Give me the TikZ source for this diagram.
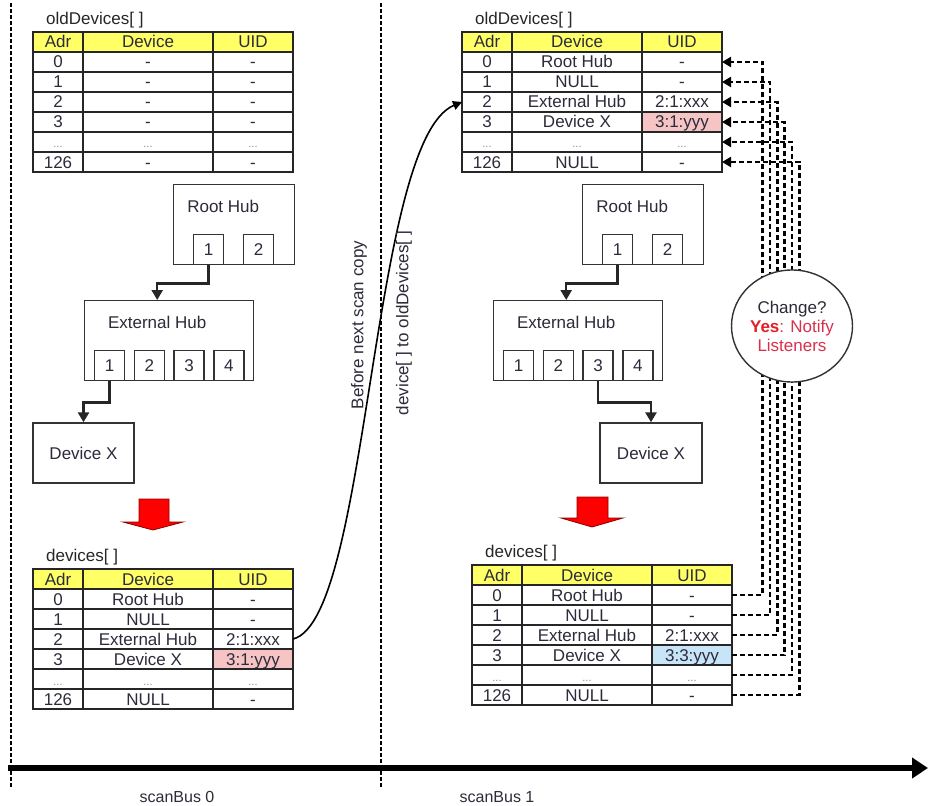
\documentclass[tikz,border=0pt]{standalone}
\usepackage{fontspec}
\setmainfont{Liberation Sans}
\usepackage{tikz}
\usetikzlibrary{arrows.meta,calc,positioning,shapes.geometric}
\definecolor{amarelo}{HTML}{FFFF66}
\definecolor{rosa}{HTML}{F6C4C4}
\definecolor{celeste}{HTML}{C8E4F8}
\definecolor{rubro}{HTML}{E41E26}
\definecolor{carmim}{HTML}{D8304E}
\definecolor{tinta}{HTML}{2B2B3A}
\newcommand{\gdots}{\textcolor{black!45}{\fontsize{11}{11}\selectfont...}}

\begin{document}
\begin{tikzpicture}[x=1pt, y=-1pt, font=\fontsize{17}{19}\selectfont,
  cell/.style={draw=black!85, line width=1.5pt, anchor=north west, minimum height=20,
    inner sep=0pt, outer sep=0pt, text height=12pt, text depth=0pt, text=tinta},
  head/.style={cell, fill=amarelo},
  title/.style={inner sep=0pt, text=black!85},
  hub/.style={draw=black!80, line width=1.4pt, fill=white, anchor=north west, text=tinta},
  port/.style={draw=black!80, line width=1.4pt, minimum size=30, inner sep=0pt, anchor=south west, text=tinta},
  hubtxt/.style={inner sep=0pt, text=tinta},
  link/.style={line width=2.5pt, black!85, -{Triangle[length=10pt,width=11pt]}},
  sync/.style={line width=2.6pt, dash pattern=on 5pt off 3pt, -{Triangle[length=9pt,width=10pt]}},
  copyline/.style={line width=1.6pt, -{Triangle[length=9pt,width=9pt]}},
  divisa/.style={line width=2pt, dash pattern=on 4pt off 2pt},
  decide/.style={ellipse, draw=black!80, line width=1.4pt, fill=white, minimum width=121,
    minimum height=112, align=center, inner sep=0pt},
  blockarrow/.style={fill=red, draw=red!55!black, line width=0.8pt}]
  \useasboundingbox (0,0) rectangle (928,805);

  % time line
  \draw[divisa] (11,3) -- (11,788);
  \draw[divisa] (381,3) -- (381,788);
  \coordinate (t0) at (8,768);
  \coordinate (t1) at (928,768);
  \draw[line width=6.5pt, -{Triangle[length=16pt,width=20pt]}] (t0) -- (t1);
  \node[font=\fontsize{16}{18}\selectfont, text=tinta] (sb0) at (177,797) {scanBus 0};
  \node[font=\fontsize{16}{18}\selectfont, text=tinta] (sb1) at (497,797) {scanBus 1};

  % tables
  \foreach \tb/\x/\y in {ol/33/32, or/462/32, nl/33/569, nr/472/565}{
    \node[head, minimum width=50] (\tb-a0) at (\x,\y) {Adr};
    \node[head, minimum width=130] (\tb-d0) at (\x+50,\y) {Device};
    \node[head, minimum width=80] (\tb-u0) at (\x+180,\y) {UID};
  }
  \foreach \a/\d/\u/\f [count=\i] in {0/-/-/white, 1/-/-/white, 2/-/-/white, 3/-/-/white,
      \gdots/\gdots/\gdots/white, 126/-/-/white}{
    \node[cell, minimum width=50] (ol-a\i) at (33,32+20*\i) {\a};
    \node[cell, minimum width=130] (ol-d\i) at (83,32+20*\i) {\d};
    \node[cell, minimum width=80, fill=\f] (ol-u\i) at (213,32+20*\i) {\u};
  }
  \foreach \a/\d/\u/\f [count=\i] in {0/Root Hub/-/white, 1/NULL/-/white, 2/External Hub/2:1:xxx/white,
      3/Device X/3:1:yyy/rosa, \gdots/\gdots/\gdots/white, 126/NULL/-/white}{
    \node[cell, minimum width=50] (or-a\i) at (462,32+20*\i) {\a};
    \node[cell, minimum width=130] (or-d\i) at (512,32+20*\i) {\d};
    \node[cell, minimum width=80, fill=\f] (or-u\i) at (642,32+20*\i) {\u};
  }
  \foreach \a/\d/\u/\f [count=\i] in {0/Root Hub/-/white, 1/NULL/-/white, 2/External Hub/2:1:xxx/white,
      3/Device X/3:1:yyy/rosa, \gdots/\gdots/\gdots/white, 126/NULL/-/white}{
    \node[cell, minimum width=50] (nl-a\i) at (33,569+20*\i) {\a};
    \node[cell, minimum width=130] (nl-d\i) at (83,569+20*\i) {\d};
    \node[cell, minimum width=80, fill=\f] (nl-u\i) at (213,569+20*\i) {\u};
  }
  \foreach \a/\d/\u/\f [count=\i] in {0/Root Hub/-/white, 1/NULL/-/white, 2/External Hub/2:1:xxx/white,
      3/Device X/3:3:yyy/celeste, \gdots/\gdots/\gdots/white, 126/NULL/-/white}{
    \node[cell, minimum width=50] (nr-a\i) at (472,565+20*\i) {\a};
    \node[cell, minimum width=130] (nr-d\i) at (522,565+20*\i) {\d};
    \node[cell, minimum width=80, fill=\f] (nr-u\i) at (652,565+20*\i) {\u};
  }
  \node[title, above right=4pt and 13pt of ol-a0.north west] (ol-t) {oldDevices[ ]};
  \node[title, above right=4pt and 13pt of or-a0.north west] (or-t) {oldDevices[ ]};
  \node[title, above right=4pt and 13pt of nl-a0.north west] (nl-t) {devices[ ]};
  \node[title, above right=4pt and 13pt of nr-a0.north west] (nr-t) {devices[ ]};

  % bus topology
  \foreach \s/\dx in {l/0, r/409}{
    \node[hub, minimum width=121, minimum height=80] (\s root) at (173+\dx,184) {};
    \node[hubtxt] (\s root-t) at ($(\s root.north)+(-11,22)$) {Root Hub};
    \node[port] (\s r-p1) at ($(\s root.south west)+(20,0)$) {1};
    \node[port] (\s r-p2) at ($(\s root.south west)+(70,0)$) {2};
    \node[hub, minimum width=169, minimum height=80] (\s ext) at (84+\dx,300) {};
    \node[hubtxt] (\s ext-t) at ($(\s ext.north)+(-12,22)$) {External Hub};
    \foreach \p in {1,...,4}
      \node[port] (\s e-p\p) at ($(\s ext.south west)+(10+39.7*\p-39.7,0)$) {\p};
    \draw[link] (\s r-p1.south) -- ++(0,18) -| (\s ext.north -| \s ext-t);
  }
  \node[hub, anchor=center, minimum width=101, minimum height=60] (ldev) at (83.5,453) {Device X};
  \node[hub, anchor=center, minimum width=102, minimum height=60] (rdev) at (651,453) {Device X};
  \draw[link] (le-p1.south) -- ++(0,21) -| (ldev.north);
  \draw[link] (re-p3.south) -- ++(0,21) -| (rdev.north);

  % scan result arrows
  \filldraw[blockarrow] (139,499) -- (169,499) -- (169,522) -- (183,522) -- (153,530)
    -- (123,522) -- (139,522) -- cycle;
  \filldraw[blockarrow] (577,497) -- (608,497) -- (608,518) -- (623,518) -- (592,527)
    -- (561,518) -- (577,518) -- cycle;

  % copy before next scan
  \draw[copyline] (nl-u3.east) .. controls (370,620) and (370,140) .. (or-a3.west);
  \node[rotate=90, text=tinta] (nota1) at (359,325) {Before next scan copy};
  \node[rotate=90, text=tinta] (nota2) at (404,323) {device[ ] to oldDevices[ ]};

  % compare
  \foreach \i in {1,...,6}
    \draw[sync] (nr-u\i.east) -| ($(or-u\i.east)+(33+7.4*\i,0)$) -- (or-u\i.east);
  \node[decide] (chg) at (792,326) {\textcolor{tinta}{Change?}\\
    \textcolor{rubro}{\textbf{Yes}}\textcolor{carmim}{: Notify}\\\textcolor{carmim}{Listeners}};
\end{tikzpicture}
\end{document}
